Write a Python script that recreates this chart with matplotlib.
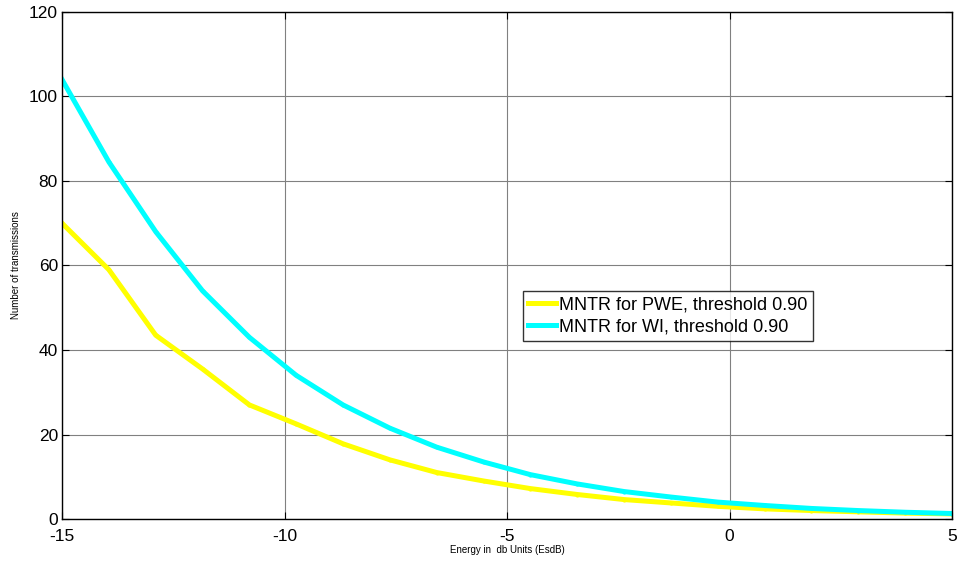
import numpy as np
import matplotlib
matplotlib.use('Agg')
import matplotlib.pyplot as plt

plt.rcParams['font.family'] = ['Liberation Sans', 'DejaVu Sans']
plt.rcParams['axes.unicode_minus'] = False

# Energy values (dB), 20 points from -15 to 5
energy = np.linspace(-15, 5, 20)

mntr_pwe = [70, 59, 43.5, 35.5, 27, 22.5, 17.8, 14, 11, 9,
            7.2, 5.8, 4.6, 3.8, 3.0, 2.4, 2.0, 1.7, 1.4, 1.2]
mntr_wi = [104, 84.5, 68, 54, 43, 34, 27, 21.5, 17, 13.5,
           10.5, 8.3, 6.5, 5.2, 4.0, 3.2, 2.5, 2.0, 1.6, 1.3]

labels = ['MNTR for PWE, threshold 0.90', 'MNTR for WI, threshold 0.90']

fig = plt.figure(figsize=(9.62, 5.65), dpi=100)
ax = fig.add_axes([0.0645, 0.0814, 0.9251, 0.8974])

ax.plot(energy, mntr_pwe, color='#ffff00', lw=3.6, marker='.', ms=4, label=labels[0])
ax.plot(energy, mntr_wi, color='#00ffff', lw=3.6, marker='.', ms=4, label=labels[1])

ax.set_xlim(-15, 5)
ax.set_ylim(0, 120)
ax.set_xticks([-15, -10, -5, 0, 5])
ax.set_yticks(np.arange(0, 121, 20))
ax.grid(True, color='#808080', lw=0.8)
ax.tick_params(direction='in', labelsize=12.5, length=5, top=True, right=True)
ax.tick_params(axis='x', pad=7)
ax.tick_params(axis='y', pad=3)
for s in ax.spines.values():
    s.set_linewidth(1.0)

ax.set_xlabel('Energy in  db Units (EsdB)', fontsize=7, labelpad=1)
ax.set_ylabel('Number of transmissions', fontsize=7, labelpad=6)

leg = ax.legend(loc='lower left', bbox_to_anchor=(0.518, 0.351), fontsize=13,
                frameon=True, fancybox=False, edgecolor='black', handlelength=1.5,
                handletextpad=0.2, borderpad=0.3, labelspacing=0.3, borderaxespad=0)
leg.get_frame().set_linewidth(1.0)

fig.savefig('out.png', dpi=100)
